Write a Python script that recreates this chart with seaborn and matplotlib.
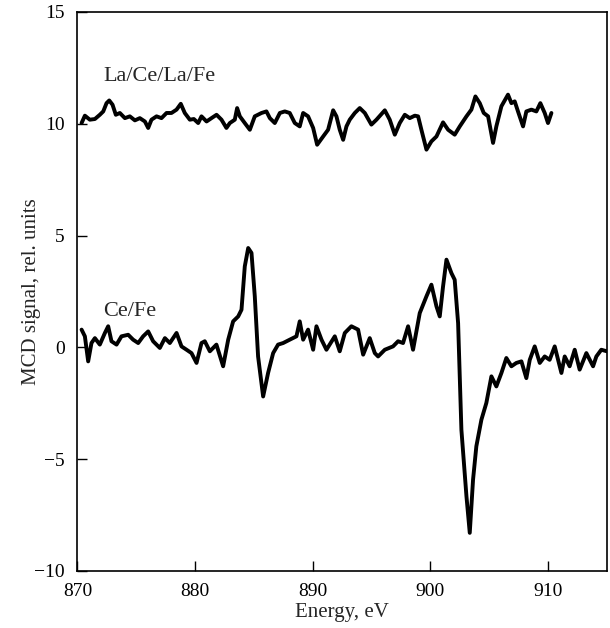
import matplotlib
matplotlib.use("Agg")
import matplotlib.pyplot as plt
import pandas as pd
import seaborn as sns

# La/Ce/La/Fe trace (offset by +10)
lacelafe_energy = [
    870.35, 870.63, 871.05, 871.48, 871.90, 872.19, 872.47, 872.70, 872.98, 873.26,
    873.60, 874.03, 874.45, 874.88, 875.30, 875.73, 876.01, 876.29, 876.72, 877.14,
    877.57, 877.99, 878.42, 878.78, 879.12, 879.55, 879.89, 880.26, 880.54, 880.97,
    881.39, 881.82, 882.24, 882.66, 882.95, 883.37, 883.57, 883.80, 884.22, 884.65,
    885.07, 885.64, 886.06, 886.35, 886.77, 887.20, 887.62, 888.04, 888.47, 888.89,
    889.18, 889.60, 890.03, 890.37, 890.88, 891.30, 891.73, 892.01, 892.29, 892.58,
    892.86, 893.14, 893.57, 893.99, 894.42, 894.98, 895.41, 896.12, 896.54, 896.97,
    897.39, 897.82, 898.24, 898.67, 898.95, 899.23, 899.66, 900.08, 900.51, 901.07,
    901.50, 902.06, 902.49, 903.06, 903.48, 903.82, 904.19, 904.53, 904.90, 905.32,
    905.60, 906.03, 906.59, 906.88, 907.16, 907.44, 907.87, 908.15, 908.58, 909.00,
    909.34, 909.71, 909.99, 910.28,
]
lacelafe_signal = [
    10.03, 10.36, 10.18, 10.21, 10.40, 10.55, 10.92, 11.04, 10.85, 10.40,
    10.48, 10.25, 10.33, 10.15, 10.25, 10.10, 9.81, 10.18, 10.33, 10.25,
    10.48, 10.48, 10.63, 10.89, 10.48, 10.18, 10.21, 10.03, 10.33, 10.10,
    10.25, 10.40, 10.18, 9.81, 10.03, 10.18, 10.70, 10.33, 10.03, 9.73,
    10.33, 10.48, 10.55, 10.25, 10.03, 10.48, 10.55, 10.48, 10.03, 9.88,
    10.48, 10.33, 9.81, 9.06, 9.43, 9.73, 10.60, 10.33, 9.73, 9.28,
    9.88, 10.18, 10.48, 10.70, 10.48, 9.96, 10.18, 10.60, 10.18, 9.51,
    10.03, 10.40, 10.25, 10.36, 10.33, 9.73, 8.84, 9.21, 9.43, 10.06,
    9.73, 9.51, 9.88, 10.33, 10.63, 11.22, 10.92, 10.48, 10.33, 9.14,
    9.88, 10.78, 11.30, 10.92, 11.00, 10.55, 9.88, 10.55, 10.63, 10.55,
    10.92, 10.48, 10.03, 10.48,
]

# Ce/Fe trace
cefe_energy = [
    870.35, 870.63, 870.91, 871.19, 871.48, 871.90, 872.33, 872.61, 872.89, 873.32,
    873.74, 874.31, 874.73, 875.16, 875.58, 876.01, 876.43, 877.00, 877.43, 877.85,
    878.42, 878.84, 879.27, 879.69, 880.12, 880.54, 880.82, 881.25, 881.81, 882.38,
    882.81, 883.23, 883.66, 883.94, 884.22, 884.51, 884.79, 885.07, 885.35, 885.78,
    886.20, 886.63, 887.05, 887.48, 888.04, 888.61, 888.89, 889.18, 889.60, 890.03,
    890.31, 890.74, 891.16, 891.87, 892.29, 892.72, 893.28, 893.85, 894.28, 894.84,
    895.27, 895.55, 896.12, 896.82, 897.25, 897.67, 898.10, 898.52, 899.09, 899.66,
    900.08, 900.51, 900.79, 901.07, 901.36, 901.78, 902.06, 902.35, 902.63, 903.06,
    903.34, 903.62, 903.90, 904.33, 904.75, 905.18, 905.60, 906.03, 906.45, 906.88,
    907.30, 907.73, 908.15, 908.44, 908.86, 909.29, 909.71, 910.13, 910.56, 911.13,
    911.41, 911.83, 912.26, 912.68, 913.25, 913.82, 914.10, 914.52, 915.00,
]
cefe_signal = [
    0.79, 0.49, -0.63, 0.19, 0.41, 0.12, 0.64, 0.94, 0.27, 0.12,
    0.49, 0.56, 0.34, 0.19, 0.49, 0.71, 0.27, -0.03, 0.41, 0.19,
    0.64, 0.04, -0.11, -0.26, -0.70, 0.19, 0.27, -0.18, 0.12, -0.85,
    0.34, 1.16, 1.38, 1.68, 3.62, 4.44, 4.22, 2.28, -0.41, -2.20,
    -1.15, -0.26, 0.12, 0.19, 0.34, 0.49, 1.16, 0.34, 0.79, -0.11,
    0.94, 0.34, -0.11, 0.49, -0.18, 0.64, 0.94, 0.79, -0.33, 0.41,
    -0.26, -0.41, -0.11, 0.04, 0.27, 0.19, 0.94, -0.11, 1.53, 2.28,
    2.80, 1.83, 1.38, 2.72, 3.92, 3.32, 3.02, 1.08, -3.69, -6.67,
    -8.30, -5.92, -4.43, -3.24, -2.49, -1.30, -1.75, -1.15, -0.48, -0.85,
    -0.70, -0.63, -1.38, -0.56, 0.04, -0.70, -0.41, -0.56, 0.04, -1.15,
    -0.41, -0.85, -0.11, -1.00, -0.26, -0.85, -0.41, -0.11, -0.18,
]

x_ticks = [870, 880, 890, 900, 910]
y_ticks = [-10, -5, 0, 5, 10, 15]

df = pd.concat([
    pd.DataFrame({"energy": lacelafe_energy, "signal": lacelafe_signal, "sample": "La/Ce/La/Fe"}),
    pd.DataFrame({"energy": cefe_energy, "signal": cefe_signal, "sample": "Ce/Fe"}),
])

sns.set_theme(style="ticks")
plt.rcParams["font.family"] = ["Liberation Serif", "DejaVu Serif"]
plt.rcParams["axes.unicode_minus"] = True

fig = plt.figure(figsize=(6.1, 6.28), dpi=100)
ax = fig.add_axes([0.127, 0.091, 0.868, 0.890])

sns.lineplot(
    data=df, x="energy", y="signal", units="sample", estimator=None,
    color="black", linewidth=2.8, sort=False, ax=ax,
)

ax.text(872.2, 11.9, "La/Ce/La/Fe", fontsize=16, ha="left", va="baseline")
ax.text(872.2, 1.38, "Ce/Fe", fontsize=16, ha="left", va="baseline")

ax.set_xlim(870, 915)
ax.set_ylim(-10, 15)
ax.set_xticks(x_ticks)
ax.set_yticks(y_ticks)
ax.tick_params(direction="in", length=7, width=1, labelsize=14, colors="black")
ax.tick_params(axis="x", pad=9)
ax.tick_params(axis="y", pad=9)
ax.set_xlabel("Energy, eV", fontsize=15, labelpad=2)
ax.set_ylabel("MCD signal, rel. units", fontsize=15, labelpad=-5)
for s in ax.spines.values():
    s.set_linewidth(1.2)
    s.set_color("black")

fig.savefig("out.png", dpi=100)
